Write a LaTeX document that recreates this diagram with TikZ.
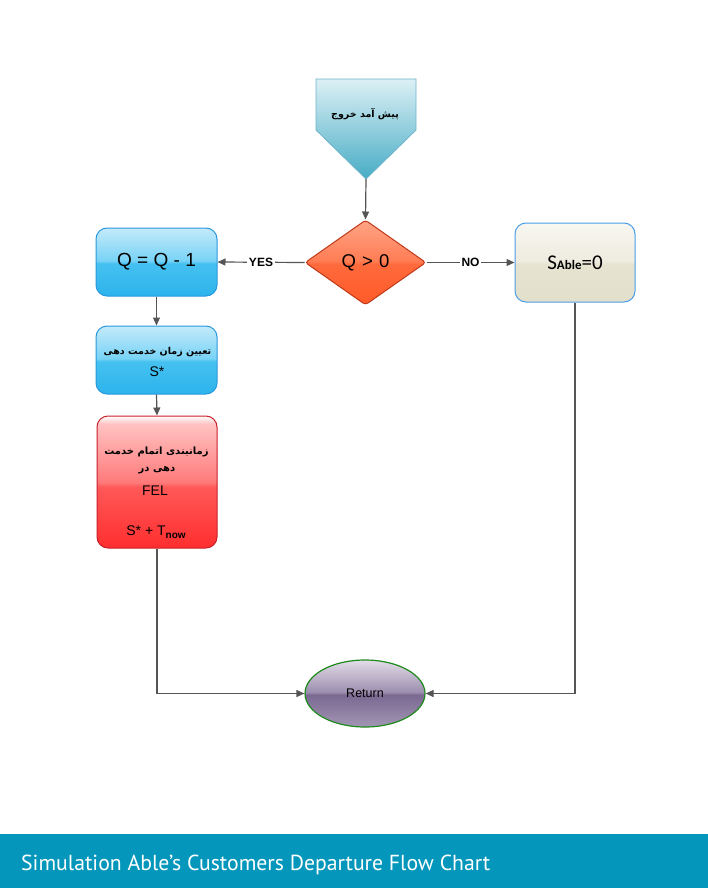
\documentclass[tikz,border=0pt]{standalone}
\usepackage{fontspec}
\setmainfont{Liberation Sans}
\newfontfamily\arabicfont[Script=Arabic]{DejaVu Sans}
\newfontfamily\bannerfont{PT Sans}
\newfontfamily\calfont{Carlito}
\TeXXeTstate=1
\usetikzlibrary{shapes.geometric,arrows.meta}
\definecolor{lineC}{HTML}{555555}
\definecolor{bannerC}{HTML}{0497BB}
% blue box
\definecolor{blueT}{HTML}{C4EAFA}
\definecolor{blueU}{HTML}{78D3F6}
\definecolor{blueL}{HTML}{45C1F0}
\definecolor{blueB}{HTML}{2DB3EC}
\definecolor{blueD}{HTML}{2A98DE}
% red box
\definecolor{redT}{HTML}{FFC2C2}
\definecolor{redU}{HTML}{FF7A7A}
\definecolor{redL}{HTML}{FF5858}
\definecolor{redB}{HTML}{FF2E2E}
\definecolor{redD}{HTML}{C8202A}
% orange diamond
\definecolor{orT}{HTML}{FFA485}
\definecolor{orU}{HTML}{FF7D55}
\definecolor{orL}{HTML}{FF6A3C}
\definecolor{orB}{HTML}{FF5A28}
\definecolor{orD}{HTML}{C03A1A}
% beige box
\definecolor{beT}{HTML}{F8F7F0}
\definecolor{beU}{HTML}{EEECE0}
\definecolor{beL}{HTML}{E6E3D1}
\definecolor{beB}{HTML}{E2DFCB}
\definecolor{beD}{HTML}{4A9DE8}
% purple ellipse
\definecolor{puT}{HTML}{E2DDE8}
\definecolor{puU}{HTML}{9C8EAE}
\definecolor{puL}{HTML}{7A6891}
\definecolor{puB}{HTML}{A396B4}
\definecolor{puD}{HTML}{1E8A1E}
% offpage
\definecolor{offT}{HTML}{DCF0F5}
\definecolor{offB}{HTML}{47ACC5}
\definecolor{offD}{HTML}{6FB4C9}
\pgfdeclareverticalshading{glossblue}{100bp}{color(0bp)=(blueB); color(25bp)=(blueB); color(49bp)=(blueL); color(51bp)=(blueU); color(75bp)=(blueT); color(100bp)=(blueT)}
\pgfdeclareverticalshading{glossred}{100bp}{color(0bp)=(redB); color(25bp)=(redB); color(48bp)=(redL); color(50bp)=(redU); color(72bp)=(redT); color(75bp)=(white); color(100bp)=(white)}
\pgfdeclareverticalshading{glossorange}{100bp}{color(0bp)=(orB); color(25bp)=(orB); color(49bp)=(orL); color(51bp)=(orU); color(75bp)=(orT); color(100bp)=(orT)}
\pgfdeclareverticalshading{glossbeige}{100bp}{color(0bp)=(beB); color(25bp)=(beB); color(49bp)=(beL); color(51bp)=(beU); color(75bp)=(beT); color(100bp)=(beT)}
\pgfdeclareverticalshading{glosspurple}{100bp}{color(0bp)=(puB); color(25bp)=(puB); color(49bp)=(puL); color(51bp)=(puU); color(75bp)=(puT); color(100bp)=(puT)}
\begin{document}
\begin{tikzpicture}[x=1pt,y=-1pt,
  arr/.style={draw=lineC, line width=1.2pt, -{Triangle[length=8pt,width=7pt]}},
  lbl/.style={fill=white, inner sep=1.5pt, font=\bfseries\fontsize{12}{12}\selectfont},
  boxbase/.style={rectangle, rounded corners=11pt, line width=1pt, inner sep=2pt, align=center},
  bluebox/.style={boxbase, shading=glossblue, draw=blueD, minimum width=121pt, minimum height=68pt},
  redbox/.style={boxbase, shading=glossred, draw=redD, minimum width=120pt, minimum height=132pt},
  beigebox/.style={boxbase, shading=glossbeige, draw=beD, minimum width=120pt, minimum height=79pt},
  decbox/.style={diamond, inner sep=0pt, rounded corners=3pt, line width=1pt, shading=glossorange, draw=orD, minimum width=121pt, minimum height=85pt},
  endbox/.style={ellipse, inner sep=0pt, line width=1.2pt, shading=glosspurple, draw=puD, minimum width=120pt, minimum height=67pt},
  arab/.style={inner sep=0pt, font=\arabicfont\bfseries\fontsize{10}{12}\selectfont},
  txt/.style={inner sep=0pt}
]
\useasboundingbox (0,0) rectangle (708,888);
% banner
\fill[bannerC] (0,834) rectangle (708,888);
\node[anchor=base west, inner sep=0pt, text=white] (title) at (21,870)
  {\resizebox{469pt}{!}{\bannerfont Simulation Able’s Customers Departure Flow Chart}};
% off-page start
\path[draw=offD, line width=0.8pt, top color=offT, bottom color=offB]
  (316,79) -- (416,79) -- (416,130) -- (366,179) -- (316,130) -- cycle;
\node[arab, font=\arabicfont\bfseries\fontsize{9.5}{12}\selectfont] (start) at (365,114) {\beginR پیش آمد خروج\endR};
\coordinate (starttip) at (366,179);
% decision
\node[decbox] (dec) at (365.5,262.5) {\fontsize{18.5}{18.5}\selectfont Q\,\,>\,\,0};
% boxes
\node[bluebox] (b1) at (156.5,262) {\fontsize{19}{19}\selectfont Q = Q - 1};
\node[bluebox] (b2) at (156.5,360) {};
\node[arab, font=\arabicfont\bfseries\fontsize{9.5}{12}\selectfont] (b2a) at (157.5,352) {\beginR تعیین زمان خدمت دهی\endR};
\node[txt, font=\fontsize{14}{14}\selectfont] (b2b) at (157,372) {S*};
\node[redbox] (b3) at (157,482) {};
\node[arab] (b3a) at (156.5,452) {\beginR زمانبندی اتمام خدمت\endR};
\node[arab] (b3b) at (157,470) {\beginR دهی در\endR};
\node[txt, font=\fontsize{14}{14}\selectfont] (b3c) at (155,491) {FEL};
\node[txt, font=\fontsize{14}{14}\selectfont] (b3d) at (156,532) {S* + T{\fontsize{10}{10}\selectfont\bfseries\raisebox{-2.5pt}{now}}};
\node[beigebox] (sab) at (575,262.5) {\calfont{\fontsize{21}{21}\selectfont S}{\fontsize{13}{13}\selectfont\bfseries Able}{\fontsize{21}{21}\selectfont=0}};
\node[endbox] (ret) at (365,693.5) {\fontsize{12.5}{12.5}\selectfont Return};
% connectors
\draw[arr] (starttip) -- (dec.north);
\draw[arr] (dec.west) -- node[lbl] (yes) {YES} (b1.east);
\draw[arr] (dec.east) -- node[lbl] (no) {NO} (sab.west);
\draw[arr] (b1.south) -- (b2.north);
\draw[arr] (b2.south) -- (b3.north);
\draw[arr] (b3.south) |- (ret.west);
\draw[arr] (sab.south) |- (ret.east);
\end{tikzpicture}
\end{document}
